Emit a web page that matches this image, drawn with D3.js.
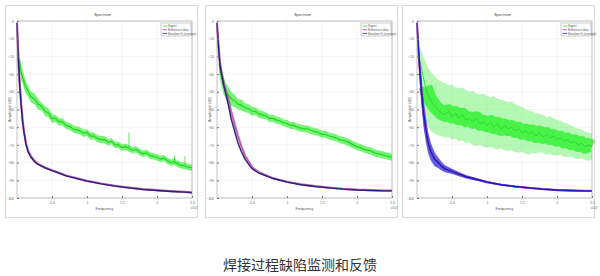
<!DOCTYPE html>
<html>
<head>
<meta charset="utf-8">
<script src="https://cdn.jsdelivr.net/npm/d3@7"></script>
<style>
  body { margin: 0; background: #fff; }
  svg { display: block; font-family: "Liberation Sans", Arial, sans-serif; }
</style>
</head>
<body>
<svg id="chart" width="600" height="276"></svg>
<script>
// ---- data ----
var yTicks = [0, -10, -20, -30, -40, -50, -60, -70, -80, -90, -100];
var xTicks = [5000, 10000, 15000, 20000, 25000];
var xTickLabels = ["0.5", "1", "1.5", "2", "2.5"];
var legendNames = ["Signal", "Reference data", "Baseline fit (average)"];

// frequency grid of the noisy (green) trace
var gFreq = [300, 600, 900, 1200, 1500, 2000, 2500, 3000, 3500, 4000, 4500, 5000, 5500, 6000, 6500, 7000, 7500, 8000, 8500, 9000,
  9500, 10000, 10500, 11000, 11500, 12000, 12500, 13000, 13500, 14000, 14500, 15000, 15500, 16000, 16500, 17000, 17500, 18000,
  18500, 19000, 19500, 20000, 20500, 21000, 21500, 22000, 22500, 23000, 23500, 24000, 24500, 25000];

// frequency grid of the smooth decaying trace
var dFreq = [0, 100, 200, 300, 400, 600, 800, 1000, 1300, 1600, 2000, 2500, 3000, 3500, 4000, 5000, 6000, 7000, 8000, 9000,
  10000, 12000, 14000, 16000, 18000, 20000, 22000, 24000, 25000];

// panel 1
var p1Hi = [-18, -25, -29, -33, -36, -40, -41, -44, -46, -48, -49.5, -52.5, -53, -55, -55, -57, -57.5, -59, -59.5, -60, -61.5, -61, -63, -63, -64.5, -65, -65, -66.7, -66.2, -68.2, -68.2, -69.7, -69.2, -70.2, -71.2, -70.7, -72.2, -73.2, -72.7, -74.2, -74.7, -75.2, -76.2, -75.7, -77.2, -78.2, -77.7, -79.2, -79.7, -80.2, -80.7, -81.2];
var p1Lo = [-26, -33, -37, -40.5, -42.5, -46, -47, -50, -50.5, -53.5, -54.5, -57.5, -57, -59, -59, -61, -61.5, -63, -63.5, -64, -65.5, -65, -67, -67, -68.5, -69, -69, -70.3, -69.8, -71.8, -71.8, -73.3, -72.8, -73.8, -74.8, -74.3, -75.8, -76.8, -76.3, -77.8, -78.3, -78.8, -79.8, -79.3, -80.8, -81.8, -81.3, -82.8, -83.3, -83.8, -84.3, -84.8];
var p1Mid = [-22, -29, -33, -37, -39, -43, -44, -47, -48, -51, -52, -55, -55, -57, -57, -59, -59.5, -61, -61.5, -62, -63.5, -63, -65, -65, -66.5, -67, -67, -68.5, -68, -70, -70, -71.5, -71, -72, -73, -72.5, -74, -75, -74.5, -76, -76.5, -77, -78, -77.5, -79, -80, -79.5, -81, -81.5, -82, -82.5, -83];
var p1SpikeF = [16000, 22500, 24000, 23000];
var p1SpikeTop = [-63, -76, -76.5, -79];
var p1SpikeBase = [-72, -80.5, -81.5, -81.5];
var p1Dark = [-1, -12, -22, -30, -37, -48, -57, -63, -70, -74, -77, -79.5, -81, -82, -83, -84.5, -86, -87.5, -88.5, -89.5, -90.5, -92, -93.3, -94.3, -95.2, -95.8, -96.3, -96.7, -97];
var p1Red = [-1, -11, -21, -29, -36, -47, -56, -62.5, -69.5, -73.5, -76.5, -79, -80.7, -81.8, -82.8, -84.3, -85.8, -87.3, -88.3, -89.3, -90.3, -91.8, -93.1, -94.1, -95, -95.6, -96.1, -96.5, -96.8];

// panel 2
var p2Hi = [-19, -26, -31, -34.5, -36.5, -40, -41.5, -44, -44.5, -46.5, -47, -48.5, -48.8, -50.3, -50.8, -51.5, -53, -53, -54, -54.5, -55.5, -56, -57, -57, -58, -58.5, -59, -59, -60, -60.5, -61, -62, -62, -63, -63.5, -64, -65, -65.5, -66, -67, -68, -69, -69.5, -70.5, -71, -71.5, -72.5, -73, -73.5, -74, -74.5, -75];
var p2Lo = [-29, -36, -41, -43.5, -45.5, -48, -48.5, -50, -50.5, -51.5, -52, -53.5, -53.2, -54.7, -55.2, -55.5, -57, -57, -58, -58.5, -59.5, -60, -61, -61, -62, -62.5, -63, -63, -64, -64.5, -65, -66, -66, -67, -67.5, -68, -69, -69.5, -70, -71, -72, -73, -73.5, -74.5, -75, -75.5, -76.5, -77, -77.5, -78, -78.5, -79];
var p2Mid = [-24, -31, -36, -39, -41, -44, -45, -47, -47.5, -49, -49.5, -51, -51, -52.5, -53, -53.5, -55, -55, -56, -56.5, -57.5, -58, -59, -59, -60, -60.5, -61, -61, -62, -62.5, -63, -64, -64, -65, -65.5, -66, -67, -67.5, -68, -69, -70, -71, -71.5, -72.5, -73, -73.5, -74.5, -75, -75.5, -76, -76.5, -77];
var p2Dark = [-1, -8, -14, -19, -24, -29, -33, -37, -42, -47, -55, -62, -69, -74, -78, -83.5, -86, -87.5, -89, -90, -91, -92.5, -93.5, -94.3, -95, -95.5, -95.8, -96, -96];
var p2Red = [-1, -7, -13, -18, -23, -28, -32, -36, -40, -44, -51, -58, -65, -71, -76, -82.5, -85.5, -87.2, -88.8, -89.8, -90.8, -92.3, -93.3, -94.1, -94.8, -95.3, -95.6, -95.8, -95.8];

// panel 3
var p3Hi = [-14, -17, -20, -23, -26, -29, -31, -33, -34.5, -35, -36.5, -36, -37.5, -38, -37.5, -39, -40, -39.5, -41, -41.5, -41, -42.5, -43, -42.5, -44, -44.5, -45, -46, -45.5, -47, -48, -48.5, -50, -50.5, -51, -52, -52.5, -53, -54.5, -54, -55, -56, -56.5, -57.5, -58, -59, -60, -61, -61.5, -62.5, -63, -63.5];
var p3Lo = [-30, -40, -50, -55, -59, -62, -63.5, -64.5, -65, -66, -65.5, -67, -66.5, -68, -67.5, -69, -68.5, -70, -70.5, -70, -71, -71.5, -71, -72, -72.5, -72, -73, -73.5, -73, -74, -74.5, -74, -75, -75.5, -74.5, -75, -74, -74.5, -75.5, -75, -76, -76, -75.5, -76.5, -77, -76.5, -77.5, -78, -77.5, -78.5, -79, -78.5];
var p3Mid = [-20, -26, -32, -37, -41, -45, -48, -50, -52, -53, -51, -54, -52, -55, -53, -56, -55, -57, -55, -58, -57, -59, -57, -60, -58, -61, -59, -61, -60, -62, -61, -63, -62, -64, -62.5, -65, -63, -65.5, -64, -66, -65, -67, -66, -68, -67, -69, -68, -70, -69, -71, -70, -71];
var p3Dark = [-1, -8, -15, -22, -28, -38, -47, -54, -62, -69, -74, -78, -80, -82, -83.5, -85, -86.5, -88, -89, -90, -91, -92.5, -93.5, -94.3, -95, -95.5, -95.8, -96, -96];
var p3Spread = [1, 3, 5, 6, 7, 8, 8, 8, 7, 6, 5, 4, 3, 2.5, 2, 1.5, 1.2, 1, 0.8, 0.7, 0.6, 0.5, 0.5, 0.5, 0.5, 0.5, 0.5, 0.5, 0.5];

var panels = [
  { fx: 5, ax: 17, hi: p1Hi, lo: p1Lo, mid: p1Mid, dark: p1Dark, red: p1Red, spikeF: p1SpikeF, spikeTop: p1SpikeTop, spikeBase: p1SpikeBase, spread: null, wide: false },
  { fx: 205, ax: 217, hi: p2Hi, lo: p2Lo, mid: p2Mid, dark: p2Dark, red: p2Red, spikeF: [], spikeTop: [], spikeBase: [], spread: null, wide: false },
  { fx: 402, ax: 417, hi: p3Hi, lo: p3Lo, mid: p3Mid, dark: p3Dark, red: p3Dark, spikeF: [], spikeTop: [], spikeBase: [], spread: p3Spread, wide: true }
];

var svg = d3.select("#chart");
var axW = 175, axTop = 21, axH = 177;

panels.forEach(function (p) {
  // paper frame
  svg.append("rect")
    .attr("x", p.fx + 0.5).attr("y", 5.5)
    .attr("width", 192).attr("height", 212)
    .attr("fill", "#fff").attr("stroke", "#d8d8d8");

  var g = svg.append("g").attr("transform", "translate(" + p.ax + "," + axTop + ")");

  var x = d3.scaleLinear().domain([0, 25000]).range([0, axW]);
  var y = d3.scaleLinear().domain([-100, 0]).range([axH, 0]);

  // grid
  g.selectAll(".gy").data(yTicks).enter().append("line")
    .attr("x1", 0).attr("x2", axW)
    .attr("y1", function (d) { return y(d); }).attr("y2", function (d) { return y(d); })
    .attr("stroke", "#ececec").attr("stroke-width", 0.6);
  g.selectAll(".gx").data(xTicks).enter().append("line")
    .attr("y1", 0).attr("y2", axH)
    .attr("x1", function (d) { return x(d); }).attr("x2", function (d) { return x(d); })
    .attr("stroke", "#ececec").attr("stroke-width", 0.6);

  // green noisy trace
  var band = d3.area()
    .x(function (d, i) { return x(gFreq[i]); })
    .y0(function (d, i) { return y(p.lo[i]); })
    .y1(function (d, i) { return y(p.hi[i]); });
  g.append("path").datum(p.hi)
    .attr("d", band)
    .attr("fill", p.wide ? "#6cef6c" : "#48f048").attr("opacity", p.wide ? 0.5 : 0.75);

  var line = d3.line()
    .x(function (d, i) { return x(gFreq[i]); })
    .y(function (d) { return y(d); });
  if (p.wide) {
    var thick = d3.line()
      .defined(function (d, i) { return i >= 3; })
      .x(function (d, i) { return x(gFreq[i]); })
      .y(function (d) { return y(d); });
    g.append("path").datum(p.mid).attr("d", thick)
      .attr("fill", "none").attr("stroke", "#2ef02e").attr("stroke-width", 14).attr("opacity", 0.8)
      .attr("stroke-linejoin", "round");
  }
  g.append("path").datum(p.mid).attr("d", line)
    .attr("fill", "none").attr("stroke", "#22d422").attr("stroke-width", p.wide ? 0.8 : 1.2);

  // spikes
  g.selectAll(".spike").data(p.spikeF).enter().append("line")
    .attr("x1", function (d) { return x(d); }).attr("x2", function (d) { return x(d); })
    .attr("y1", function (d, i) { return y(p.spikeTop[i]); })
    .attr("y2", function (d, i) { return y(p.spikeBase[i]); })
    .attr("stroke", "#33dd33").attr("stroke-width", 0.8);

  // decaying traces
  var dline = d3.line()
    .x(function (d, i) { return x(dFreq[i]); })
    .y(function (d) { return y(d); });
  if (p.spread) {
    var sp = p.spread;
    var darea = d3.area()
      .x(function (d, i) { return x(dFreq[i]); })
      .y0(function (d, i) { return y(d - sp[i]); })
      .y1(function (d, i) { return y(d + sp[i]); });
    g.append("path").datum(p.dark).attr("d", darea)
      .attr("fill", "#2a2ae0").attr("opacity", 0.75);
  }
  g.append("path").datum(p.red).attr("d", dline)
    .attr("fill", "none").attr("stroke", "#b0409a").attr("stroke-width", 2.2).attr("opacity", 0.8);
  g.append("path").datum(p.dark).attr("d", dline)
    .attr("fill", "none").attr("stroke", p.wide ? "#1818c8" : "#2a1f7a").attr("stroke-width", 1.4);

  // axes box
  g.append("rect").attr("width", axW).attr("height", axH)
    .attr("fill", "none").attr("stroke", "#9a9a9a").attr("stroke-width", 0.6);

  var yAxis = g.append("g").call(d3.axisLeft(y).tickValues(yTicks).tickSize(-2).tickPadding(3));
  yAxis.select(".domain").remove();
  yAxis.selectAll("line").attr("stroke", "#777");
  yAxis.selectAll("text").attr("font-size", 3.5).attr("fill", "#666").attr("font-family", "Liberation Sans, sans-serif");

  var xAxis = g.append("g").attr("transform", "translate(0," + axH + ")")
    .call(d3.axisBottom(x).tickValues(xTicks)
      .tickFormat(function (d, i) { return xTickLabels[i]; })
      .tickSize(-2).tickPadding(4));
  xAxis.select(".domain").remove();
  xAxis.selectAll("line").attr("stroke", "#777");
  xAxis.selectAll("text").attr("font-size", 3.5).attr("fill", "#666").attr("font-family", "Liberation Sans, sans-serif");

  // exponent
  g.append("text").attr("x", axW - 1).attr("y", axH + 11)
    .attr("font-size", 3.5).attr("fill", "#666").text("x10\u2074");

  // labels
  g.append("text").attr("x", axW / 2).attr("y", axH + 12)
    .attr("text-anchor", "middle").attr("font-size", 3.8).attr("fill", "#555").text("Frequency");
  g.append("text").attr("transform", "translate(-6," + (axH / 2) + ") rotate(-90)")
    .attr("text-anchor", "middle").attr("font-size", 3.8).attr("fill", "#555").text("Amplitude (dB)");
  g.append("text").attr("x", axW / 2 - 2).attr("y", -5)
    .attr("text-anchor", "middle").attr("font-size", 4).attr("fill", "#444").text("Spectrum");

  // legend
  var lg = g.append("g").attr("transform", "translate(" + (axW - 31) + ",2)");
  lg.append("rect").attr("width", 30).attr("height", 13)
    .attr("fill", "#fff").attr("stroke", "#999").attr("stroke-width", 0.5);
  var lcol = ["#33dd33", "#b0409a", p.wide ? "#1818c8" : "#2a1f7a"];
  legendNames.forEach(function (n, i) {
    lg.append("line").attr("x1", 1.5).attr("x2", 6).attr("y1", 3 + i * 3.7).attr("y2", 3 + i * 3.7)
      .attr("stroke", lcol[i]).attr("stroke-width", 0.8);
    lg.append("text").attr("x", 7).attr("y", 4.2 + i * 3.7)
      .attr("font-size", 3).attr("fill", "#555").text(n);
  });
});

// caption
svg.append("text")
  .attr("x", 300).attr("y", 270)
  .attr("text-anchor", "middle")
  .attr("font-family", "Noto Sans CJK SC, sans-serif")
  .attr("font-size", 14).attr("fill", "#333")
  .text("焊接过程缺陷监测和反馈");
</script>
</body>
</html>
